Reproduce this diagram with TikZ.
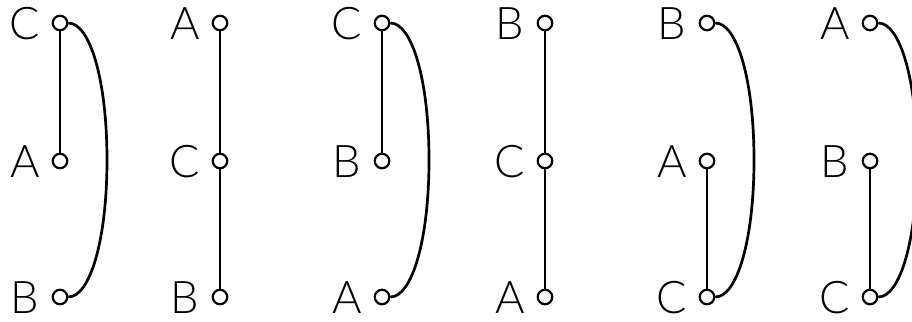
\documentclass[tikz,border=0pt]{standalone}
\usepackage{fontspec}
\setmainfont{Lato Light}
\begin{document}
\begin{tikzpicture}[x=1pt,y=-1pt,
  pin/.style={circle,draw,line width=2.2pt,fill=white,minimum size=14.5pt,inner sep=0pt},
  lbl/.style={font=\fontsize{45}{45}\selectfont,inner sep=0pt,anchor=base},
  wire/.style={line width=2.7pt},
]
\useasboundingbox (0,0) rectangle (912,321);
\def\ya{23}\def\yb{161}\def\yc{297}
\newcommand{\mydiag}[5]{%
  % #1 name prefix, #2 x, #3 top label, #4 mid label, #5 bottom label
  \node[lbl] (#1lt) at (#2-35,\ya+17) {#3};
  \node[lbl] (#1lm) at (#2-35,\yb+16) {#4};
  \node[lbl] (#1lb) at (#2-35,\yc+16) {#5};
}
\mydiag{a}{60}{C}{A}{B}
\mydiag{b}{220}{A}{C}{B}
\mydiag{c}{382}{C}{B}{A}
\mydiag{d}{545}{B}{C}{A}
\mydiag{e}{707}{B}{A}{C}
\mydiag{f}{870}{A}{B}{C}
% diagram 1
\node[pin] (at) at (60,\ya) {}; \node[pin] (am) at (60,\yb) {}; \node[pin] (ab) at (60,\yc) {};
\draw[wire] (at) -- (am);
\draw[wire] (at.east) .. controls (90,\ya) and (107,80) .. (107,160) .. controls (107,240) and (90,\yc) .. (ab.east);
% diagram 2
\node[pin] (bt) at (220,\ya) {}; \node[pin] (bm) at (220,\yb) {}; \node[pin] (bb) at (220,\yc) {};
\draw[wire] (bt) -- (bm); \draw[wire] (bm) -- (bb);
% diagram 3
\node[pin] (ct) at (382,\ya) {}; \node[pin] (cm) at (382,\yb) {}; \node[pin] (cb) at (382,\yc) {};
\draw[wire] (ct) -- (cm);
\draw[wire] (ct.east) .. controls (412,\ya) and (429,80) .. (429,160) .. controls (429,240) and (412,\yc) .. (cb.east);
% diagram 4
\node[pin] (dt) at (545,\ya) {}; \node[pin] (dm) at (545,\yb) {}; \node[pin] (db) at (545,\yc) {};
\draw[wire] (dt) -- (dm); \draw[wire] (dm) -- (db);
% diagram 5
\node[pin] (et) at (707,\ya) {}; \node[pin] (em) at (707,\yb) {}; \node[pin] (eb) at (707,\yc) {};
\draw[wire] (em) -- (eb);
\draw[wire] (et.east) .. controls (737,\ya) and (754,80) .. (754,160) .. controls (754,240) and (737,\yc) .. (eb.east);
% diagram 6
\node[pin] (ft) at (870,\ya) {}; \node[pin] (fm) at (870,\yb) {}; \node[pin] (fb) at (870,\yc) {};
\draw[wire] (fm) -- (fb);
\draw[wire] (ft.east) .. controls (900,\ya) and (917,80) .. (917,160) .. controls (917,240) and (900,\yc) .. (fb.east);
\end{tikzpicture}
\end{document}
